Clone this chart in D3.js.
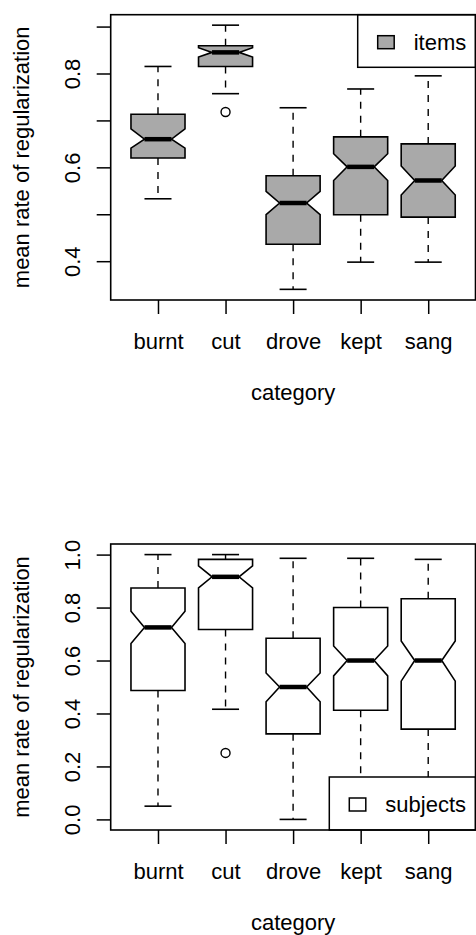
<!DOCTYPE html>
<html>
<head>
<meta charset="utf-8">
<script src="https://cdn.jsdelivr.net/npm/d3@7"></script>
<style>
  body { margin: 0; background: #fff; }
  svg { display: block; font-family: "Liberation Sans", Arial, sans-serif; }
</style>
</head>
<body>
<svg id="chart" width="476" height="935"></svg>
<script>
const categories = ['burnt', 'cut', 'drove', 'kept', 'sang'];

// ---- items (top panel)
const itemsLower   = [0.533, 0.757, 0.340, 0.398, 0.398];
const itemsQ1      = [0.620, 0.815, 0.436, 0.499, 0.494];
const itemsMedian  = [0.660, 0.845, 0.524, 0.601, 0.572];
const itemsQ3      = [0.713, 0.859, 0.582, 0.665, 0.650];
const itemsUpper   = [0.815, 0.903, 0.727, 0.767, 0.795];
const itemsNotchLo = [0.641, 0.835, 0.499, 0.572, 0.541];
const itemsNotchHi = [0.682, 0.855, 0.549, 0.629, 0.603];
const itemsOutliers = [[], [0.718], [], [], []];
const itemsTicks   = [0.4, 0.5, 0.6, 0.7, 0.8, 0.9];
const itemsLabels  = [0.4, 0.6, 0.8];

// ---- subjects (bottom panel)
const subjLower   = [0.050, 0.416, 0.000, 0.000, 0.000];
const subjQ1      = [0.487, 0.717, 0.323, 0.412, 0.341];
const subjMedian  = [0.725, 0.916, 0.500, 0.600, 0.600];
const subjQ3      = [0.874, 0.982, 0.684, 0.800, 0.833];
const subjUpper   = [1.000, 1.000, 0.986, 0.986, 0.982];
const subjNotchLo = [0.664, 0.874, 0.444, 0.542, 0.522];
const subjNotchHi = [0.786, 0.957, 0.553, 0.655, 0.674];
const subjOutliers = [[], [0.251], [], [], []];
const subjTicks   = [0, 0.2, 0.4, 0.6, 0.8, 1.0];
const subjLabels  = [0, 0.2, 0.4, 0.6, 0.8, 1.0];

const build = (lo, q1, med, q3, hi, nlo, nhi, out) =>
    categories.map((c, i) => ({
        cat: c, pos: i + 1,
        lo: lo[i], q1: q1[i], med: med[i], q3: q3[i], hi: hi[i],
        nlo: nlo[i], nhi: nhi[i], out: out[i]
    }));

const FONT = 22;

const plotBoxChart = (svg, data, opts) => {
    const { left, right, top, bottom, domainY, ticks, labels, fill, legend } = opts;

    const g = svg.append('g');

    // ---- Escalas
    const mapX = d3.scaleLinear().domain([0.3, categories.length + 0.7]).range([left, right]);
    const mapY = d3.scaleLinear().domain(domainY).range([bottom, top]);
    const w = 0.4;

    // ---- Eixo Y
    const yAxis = d3.axisLeft(mapY)
        .tickValues(ticks)
        .tickSize(14)
        .tickFormat(d => labels.some(l => Math.abs(l - d) < 1e-9) ? d3.format('.1f')(d) : '');
    const gy = g.append('g')
        .attr('transform', `translate(${left},0)`)
        .call(yAxis);
    gy.select('.domain').remove();
    gy.selectAll('line').attr('stroke', '#000').attr('stroke-width', 1.5);
    gy.selectAll('text')
        .attr('x', null).attr('dy', null)
        .attr('transform', 'translate(-30.5,0) rotate(-90)')
        .attr('text-anchor', 'middle')
        .attr('fill', '#000')
        .style('font-size', FONT + 'px')
        .style('font-family', '"Liberation Sans", Arial, sans-serif');

    // ---- Eixo X
    const xAxis = d3.axisBottom(mapX)
        .tickValues(categories.map((c, i) => i + 1))
        .tickSize(14)
        .tickFormat(d => categories[d - 1]);
    const gx = g.append('g')
        .attr('transform', `translate(0,${bottom})`)
        .call(xAxis);
    gx.select('.domain').remove();
    gx.selectAll('line').attr('stroke', '#000').attr('stroke-width', 1.5);
    gx.selectAll('text')
        .attr('y', 49).attr('dy', null)
        .attr('fill', '#000')
        .style('font-size', FONT + 'px')
        .style('font-family', '"Liberation Sans", Arial, sans-serif');

    // labels
    g.append('text')
        .attr('transform', `translate(29,${(top + bottom) / 2}) rotate(-90)`)
        .attr('text-anchor', 'middle')
        .style('font-size', FONT + 'px')
        .text('mean rate of regularization');
    g.append('text')
        .attr('x', (left + right) / 2)
        .attr('y', bottom + 100)
        .attr('text-anchor', 'middle')
        .style('font-size', FONT + 'px')
        .text('category');

    // ---- Caixas
    const boxes = g.selectAll('g.box').data(data).join('g').attr('class', 'box');

    // whiskers (dashed)
    boxes.append('line')
        .attr('x1', d => mapX(d.pos)).attr('x2', d => mapX(d.pos))
        .attr('y1', d => mapY(d.q3)).attr('y2', d => mapY(d.hi))
        .attr('stroke', '#000').attr('stroke-width', 1.4).attr('stroke-dasharray', '7,7');
    boxes.append('line')
        .attr('x1', d => mapX(d.pos)).attr('x2', d => mapX(d.pos))
        .attr('y1', d => mapY(d.q1)).attr('y2', d => mapY(d.lo))
        .attr('stroke', '#000').attr('stroke-width', 1.4).attr('stroke-dasharray', '7,7');

    // staples
    ['hi', 'lo'].forEach(k => {
        boxes.append('line')
            .attr('x1', d => mapX(d.pos - w / 2)).attr('x2', d => mapX(d.pos + w / 2))
            .attr('y1', d => mapY(d[k])).attr('y2', d => mapY(d[k]))
            .attr('stroke', '#000').attr('stroke-width', 1.6);
    });

    // notched box
    boxes.append('path')
        .attr('d', d => {
            const pts = [
                [d.pos - w, d.q1], [d.pos - w, d.nlo], [d.pos - w / 2, d.med],
                [d.pos - w, d.nhi], [d.pos - w, d.q3], [d.pos + w, d.q3],
                [d.pos + w, d.nhi], [d.pos + w / 2, d.med], [d.pos + w, d.nlo],
                [d.pos + w, d.q1]
            ];
            return d3.line().x(p => mapX(p[0])).y(p => mapY(p[1]))(pts) + 'Z';
        })
        .attr('fill', fill)
        .attr('stroke', '#000')
        .attr('stroke-width', 1.6)
        .attr('stroke-linejoin', 'miter');

    // median
    boxes.append('line')
        .attr('x1', d => mapX(d.pos - w / 2)).attr('x2', d => mapX(d.pos + w / 2))
        .attr('y1', d => mapY(d.med)).attr('y2', d => mapY(d.med))
        .attr('stroke', '#000').attr('stroke-width', 4.5);

    // outliers
    boxes.selectAll('circle')
        .data(d => d.out.map(v => ({ pos: d.pos, v })))
        .join('circle')
        .attr('cx', d => mapX(d.pos))
        .attr('cy', d => mapY(d.v))
        .attr('r', 4.5)
        .attr('fill', 'none')
        .attr('stroke', '#000')
        .attr('stroke-width', 1.4);

    // ---- Legenda
    const lg = g.append('g');
    lg.append('rect')
        .attr('x', legend.x).attr('y', legend.y)
        .attr('width', right - legend.x).attr('height', legend.h)
        .attr('fill', '#fff').attr('stroke', '#000').attr('stroke-width', 1.5);
    lg.append('rect')
        .attr('x', legend.x + 20).attr('y', legend.y + 21)
        .attr('width', 16.5).attr('height', 13)
        .attr('fill', fill).attr('stroke', '#000').attr('stroke-width', 1.5);
    lg.append('text')
        .attr('x', legend.x + 56).attr('y', legend.y + 35)
        .style('font-size', FONT + 'px')
        .text(legend.label);

    // frame
    g.append('rect')
        .attr('x', left).attr('y', top)
        .attr('width', right - left).attr('height', bottom - top)
        .attr('fill', 'none').attr('stroke', '#000').attr('stroke-width', 1.6);
};

const svg = d3.select('#chart');

plotBoxChart(svg, build(itemsLower, itemsQ1, itemsMedian, itemsQ3, itemsUpper, itemsNotchLo, itemsNotchHi, itemsOutliers), {
    left: 110.7, right: 475.5, top: 14.7, bottom: 300,
    domainY: [0.3173, 0.9253], ticks: itemsTicks, labels: itemsLabels,
    fill: '#a9a9a9',
    legend: { x: 357.7, y: 14.7, h: 52.6, label: 'items' }
});

plotBoxChart(svg, build(subjLower, subjQ1, subjMedian, subjQ3, subjUpper, subjNotchLo, subjNotchHi, subjOutliers), {
    left: 110.7, right: 475.5, top: 544, bottom: 830,
    domainY: [-0.04, 1.04], ticks: subjTicks, labels: subjLabels,
    fill: '#fff',
    legend: { x: 329.3, y: 777, h: 53, label: 'subjects' }
});
</script>
</body>
</html>
